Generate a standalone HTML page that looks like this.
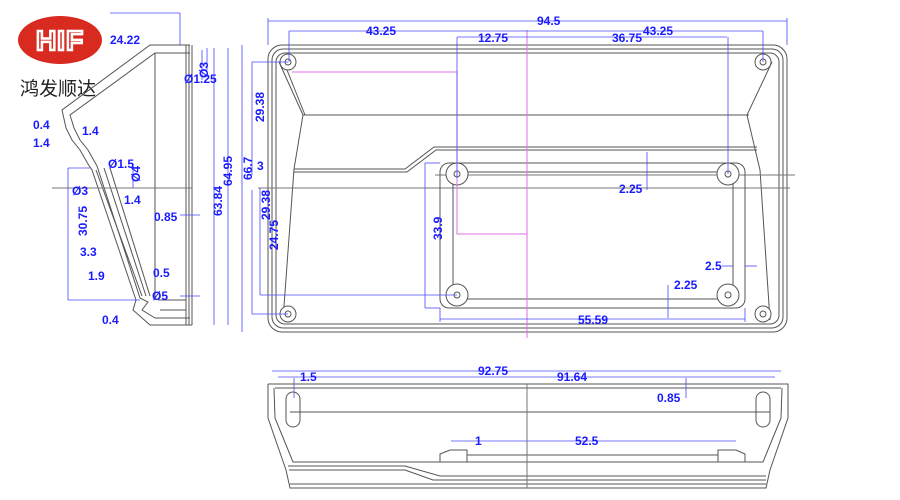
<!DOCTYPE html>
<html><head><meta charset="utf-8"><style>
html,body{margin:0;padding:0;background:#fff;}
svg{display:block}
text{font-family:"Liberation Sans","Noto Sans CJK SC",sans-serif;}
.d{fill:#1a1aff;font-weight:bold;font-size:12px}
</style></head><body>
<svg width="900" height="500" viewBox="0 0 900 500" xmlns="http://www.w3.org/2000/svg">
<rect width="900" height="500" fill="#fff"/>
<!-- logo -->
<ellipse cx="60" cy="40" rx="42" ry="24" fill="#d92a20"/>
<text x="60" y="50" text-anchor="middle" font-size="28" font-weight="bold" fill="none" stroke="#fff" stroke-width="2.5" letter-spacing="1">HIF</text>
<text x="20" y="95" font-size="19" fill="#222">鸿发顺达</text>

<g fill="none" stroke="#555" stroke-width="1">
<!-- side view -->
<polyline points="190,45 150,45 62,110 66,128 72,140 80,150 88,164 92,170 136,300 133,310 150,325 192,325"/>
<polyline points="190,53 155,53 70,115 74,128 80,140 88,150 97,166 140,298 148,302 142,310 155,318 190,318"/>
<polyline points="96,170 142,296"/>
<polyline points="104,168 146,296"/>
<polyline points="110,168 150,296"/>
<line x1="155" y1="53" x2="155" y2="300"/>
<line x1="186" y1="45" x2="186" y2="325"/>
<line x1="189" y1="45" x2="189" y2="325"/>
<line x1="192" y1="45" x2="192" y2="325"/>
<line x1="158" y1="300" x2="186" y2="300"/>
<line x1="52" y1="188" x2="192" y2="188" stroke="#777"/>
<line x1="160" y1="310" x2="186" y2="310"/>
<!-- front view -->
<rect x="268" y="45" width="519" height="287" rx="14"/>
<rect x="272" y="49" width="511" height="279" rx="11"/>
<rect x="276" y="53" width="503" height="271" rx="9"/>
<polyline points="279,62 303,115 294,169 283,320"/>
<polyline points="287,70 305,115"/>
<line x1="303" y1="115" x2="749" y2="115"/>
<polyline points="772,62 747,115 760,170 770,320"/>
<polyline points="294,169 405,169 434,147 757,147"/>
<polyline points="294,172 407,172 436,150 757,150"/>
<line x1="258" y1="188" x2="790" y2="188" stroke="#777"/>
<line x1="435" y1="175" x2="795" y2="175" stroke="#777"/>
<rect x="440" y="163" width="305" height="145" rx="9"/>
<rect x="453" y="172" width="280" height="127" rx="2"/>
</g>
<g fill="#fff" stroke="#555">
<circle cx="288" cy="62" r="8"/><circle cx="288" cy="62" r="3"/>
<circle cx="763" cy="62" r="8"/><circle cx="763" cy="62" r="3"/>
<circle cx="288" cy="314" r="8"/><circle cx="288" cy="314" r="3"/>
<circle cx="763" cy="314" r="8"/><circle cx="763" cy="314" r="3"/>
<circle cx="457" cy="174" r="11"/><circle cx="457" cy="174" r="3"/>
<circle cx="728" cy="174" r="11"/><circle cx="728" cy="174" r="3"/>
<circle cx="457" cy="295" r="11"/><circle cx="457" cy="295" r="3"/>
<circle cx="728" cy="295" r="11"/><circle cx="728" cy="295" r="3"/>
</g>
<!-- pink lines -->
<g stroke="#e070e0" fill="none">
<line x1="527" y1="30" x2="527" y2="338"/>
<polyline points="292,72 457,72 457,234 527,234"/>
</g>
<!-- blue dims -->
<g stroke="#4a4aff" fill="none" stroke-width="0.8">
<line x1="268" y1="21" x2="787" y2="21"/>
<line x1="268" y1="18" x2="268" y2="45"/><line x1="787" y1="18" x2="787" y2="45"/>
<line x1="289" y1="31" x2="763" y2="31"/>
<line x1="289" y1="31" x2="289" y2="62"/><line x1="763" y1="31" x2="763" y2="62"/>
<line x1="457" y1="37" x2="727" y2="37"/>
<line x1="457" y1="37" x2="457" y2="178"/><line x1="728" y1="37" x2="728" y2="174"/>
<line x1="242" y1="45" x2="242" y2="332"/>
<line x1="252" y1="62" x2="252" y2="175"/><line x1="252" y1="190" x2="252" y2="314"/>
<line x1="252" y1="62" x2="288" y2="62"/><line x1="252" y1="314" x2="288" y2="314"/>
<line x1="260" y1="188" x2="260" y2="295"/><line x1="260" y1="295" x2="457" y2="295"/>
<line x1="425" y1="163" x2="425" y2="308"/>
<line x1="425" y1="163" x2="440" y2="163"/><line x1="425" y1="308" x2="440" y2="308"/>
<line x1="440" y1="319" x2="745" y2="319"/>
<line x1="440" y1="308" x2="440" y2="322"/><line x1="745" y1="308" x2="745" y2="322"/>
<line x1="647" y1="152" x2="647" y2="190"/>
<line x1="668" y1="285" x2="668" y2="318"/>
<line x1="722" y1="266" x2="733" y2="266"/><line x1="745" y1="266" x2="757" y2="266"/>
<line x1="110" y1="13" x2="180" y2="13"/><line x1="180" y1="13" x2="180" y2="45"/>
<line x1="214" y1="48" x2="214" y2="325"/><line x1="228" y1="48" x2="228" y2="325"/>
<line x1="207" y1="48" x2="207" y2="70"/><line x1="202" y1="50" x2="202" y2="80"/>
<line x1="68" y1="168" x2="68" y2="300"/>
<line x1="68" y1="168" x2="90" y2="168"/><line x1="68" y1="300" x2="140" y2="300"/>
<line x1="180" y1="215" x2="200" y2="215"/>
<line x1="180" y1="296" x2="200" y2="296"/>
<line x1="133" y1="165" x2="133" y2="188"/>
<line x1="272" y1="371" x2="781" y2="371"/>
<line x1="278" y1="377" x2="775" y2="377"/>
<line x1="451" y1="441" x2="736" y2="441"/>
<line x1="686" y1="378" x2="686" y2="398"/>
<line x1="294" y1="378" x2="294" y2="398"/>
</g>
<!-- bottom view -->
<g fill="none" stroke="#555">
<polyline points="268,384 268,418 286,470 290,488 766,488 770,470 788,418 788,384 268,384"/>
<polyline points="274,388 275,418 293,462 763,462 781,418 782,388"/>
<line x1="275" y1="388" x2="781" y2="388"/>
<line x1="290" y1="412" x2="770" y2="412"/>
<rect x="286" y="392" width="14" height="35" rx="7"/>
<rect x="756" y="392" width="14" height="35" rx="7"/>
<polyline points="440,462 440,454 450,450 467,450 467,462"/>
<polyline points="718,462 718,450 736,450 745,454 745,462"/>
<line x1="467" y1="455" x2="718" y2="455"/>
<polyline points="288,466 405,466 440,476 766,476"/>
<polyline points="289,470 405,470 433,480 766,480"/>
<line x1="290" y1="484" x2="766" y2="484"/>
<line x1="527" y1="384" x2="527" y2="488" stroke="#777"/>
</g>
<!-- labels -->
<g class="d">
<text x="110" y="44" class="d">24.22</text>
<text x="198" y="68" class="d" transform="rotate(-90 208 68)">Ø3</text>
<text x="184" y="83" class="d">Ø1.25</text>
<text x="33" y="129" class="d">0.4</text>
<text x="82" y="135" class="d">1.4</text>
<text x="33" y="147" class="d">1.4</text>
<text x="108" y="168" class="d">Ø1.5</text>
<text x="136" y="186" class="d" transform="rotate(-90 136 182)">Ø4</text>
<text x="72" y="195" class="d">Ø3</text>
<text x="124" y="204" class="d">1.4</text>
<text x="154" y="221" class="d">0.85</text>
<text x="75" y="248" class="d" transform="rotate(-90 75 236)">30.75</text>
<text x="80" y="256" class="d">3.3</text>
<text x="88" y="280" class="d">1.9</text>
<text x="153" y="277" class="d">0.5</text>
<text x="152" y="300" class="d">Ø5</text>
<text x="102" y="324" class="d">0.4</text>
<text x="216" y="222" class="d" transform="rotate(-90 216 216)">63.84</text>
<text x="230" y="188" class="d" transform="rotate(-90 230 186)">64.95</text>
<text x="252" y="134" class="d" transform="rotate(-90 252 122)">29.38</text>
<text x="257" y="170" class="d">3</text>
<text x="246" y="186" class="d" transform="rotate(-90 246 180)">66.7</text>
<text x="258" y="232" class="d" transform="rotate(-90 258 220)">29.38</text>
<text x="266" y="262" class="d" transform="rotate(-90 266 250)">24.75</text>
<text x="537" y="25" class="d">94.5</text>
<text x="366" y="35" class="d">43.25</text>
<text x="643" y="35" class="d">43.25</text>
<text x="478" y="42" class="d">12.75</text>
<text x="612" y="42" class="d">36.75</text>
<text x="430" y="252" class="d" transform="rotate(-90 430 240)">33.9</text>
<text x="619" y="193" class="d">2.25</text>
<text x="705" y="270" class="d">2.5</text>
<text x="674" y="289" class="d">2.25</text>
<text x="578" y="324" class="d">55.59</text>
<text x="478" y="375" class="d">92.75</text>
<text x="300" y="381" class="d">1.5</text>
<text x="557" y="381" class="d">91.64</text>
<text x="657" y="402" class="d">0.85</text>
<text x="475" y="445" class="d">1</text>
<text x="575" y="445" class="d">52.5</text>
</g>
</svg>
</body></html>
